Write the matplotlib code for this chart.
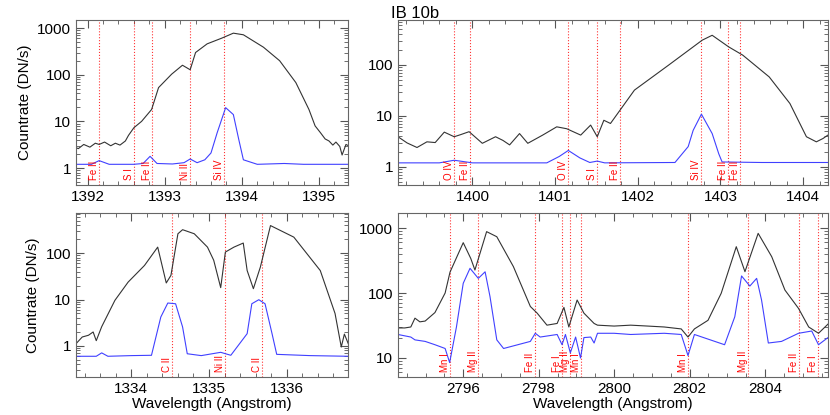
import matplotlib
matplotlib.use("Agg")
import matplotlib.pyplot as plt
from matplotlib.ticker import FixedLocator, LogLocator, FuncFormatter, MultipleLocator, NullFormatter

plt.rcParams["font.family"] = "Liberation Sans"

# ---- panel 1: Si IV 1393 ----
p1_black_x = [1391.81, 1391.88, 1391.95, 1392.03, 1392.10, 1392.15, 1392.22, 1392.30, 1392.36, 1392.42,
              1392.49, 1392.53, 1392.60, 1392.70, 1392.83, 1392.92, 1393.09, 1393.23, 1393.33, 1393.40,
              1393.55, 1393.74, 1393.89, 1394.02, 1394.28, 1394.49, 1394.70, 1394.87, 1394.95, 1395.02,
              1395.08, 1395.13, 1395.18, 1395.22, 1395.27, 1395.30, 1395.35, 1395.40]
p1_black_y = [2.9, 2.6, 3.2, 2.8, 3.4, 3.2, 3.6, 3.0, 3.4, 3.1,
              3.8, 5.0, 7.3, 10, 18, 53, 103, 160, 128, 300,
              460, 610, 780, 720, 390, 200, 68, 18, 8.0, 5.7,
              4.2, 3.8, 3.1, 3.6, 2.9, 1.9, 3.2, 2.9]
p1_blue_x = [1391.81, 1392.05, 1392.15, 1392.28, 1392.60, 1392.72, 1392.81, 1392.90, 1393.10, 1393.25,
             1393.33, 1393.42, 1393.52, 1393.60, 1393.68, 1393.79, 1393.89, 1393.96, 1394.02, 1394.20,
             1394.55, 1394.80, 1395.40]
p1_blue_y = [1.2, 1.2, 1.44, 1.2, 1.2, 1.25, 1.78, 1.25, 1.22, 1.3,
             1.56, 1.3, 1.5, 2.1, 5.7, 19.7, 14, 4.1, 1.5, 1.2,
             1.25, 1.2, 1.2]
p1_lines = [1392.15, 1392.60, 1392.83, 1393.33, 1393.77]
p1_labels = ["Fe II", "S I", "Fe II", "Ni II", "Si IV"]

# ---- panel 2: Si IV 1403 ----
p2_black_x = [1399.10, 1399.21, 1399.33, 1399.45, 1399.55, 1399.66, 1399.78, 1399.86, 1399.96, 1400.12,
              1400.28, 1400.37, 1400.45, 1400.57, 1400.67, 1400.85, 1401.02, 1401.14, 1401.31, 1401.43,
              1401.51, 1401.59, 1401.67, 1401.96, 1402.37, 1402.78, 1402.90, 1403.10, 1403.27, 1403.59,
              1403.84, 1404.04, 1404.16, 1404.24, 1404.30]
p2_black_y = [3.9, 2.95, 2.4, 3.1, 3.0, 4.8, 3.9, 4.3, 4.9, 2.9,
              3.9, 3.3, 2.7, 4.5, 2.9, 4.2, 6.1, 5.6, 4.2, 6.6,
              3.9, 8.2, 7.1, 32, 98, 305, 380, 225, 155, 58,
              17.5, 3.9, 3.1, 3.6, 4.2]
p2_blue_x = [1399.10, 1399.60, 1399.78, 1400.00, 1400.90, 1401.05, 1401.16, 1401.30, 1401.42, 1401.51,
             1401.60, 1402.45, 1402.61, 1402.67, 1402.77, 1402.90, 1402.98, 1403.02, 1403.50, 1404.30]
p2_blue_y = [1.2, 1.2, 1.35, 1.2, 1.2, 1.6, 2.1, 1.5, 1.22, 1.3,
             1.2, 1.22, 2.5, 5.2, 10.8, 4.5, 1.8, 1.25, 1.22, 1.22]
p2_lines = [1399.78, 1399.97, 1401.16, 1401.51, 1401.78, 1402.77, 1403.09, 1403.24]
p2_labels = ["O IV", "Fe II", "O IV", "S I", "Fe II", "Si IV", "Fe II", "Fe II"]

# ---- panel 3: C II ----
p3_black_x = [1333.29, 1333.37, 1333.45, 1333.51, 1333.55, 1333.62, 1333.79, 1333.96, 1334.17, 1334.34,
              1334.45, 1334.51, 1334.60, 1334.66, 1334.81, 1334.98, 1335.06, 1335.15, 1335.21, 1335.32,
              1335.44, 1335.49, 1335.57, 1335.66, 1335.79, 1336.09, 1336.43, 1336.62, 1336.70, 1336.74,
              1336.79]
p3_black_y = [1.12, 1.56, 1.7, 2.0, 1.3, 2.6, 9.6, 23.7, 54, 134,
              22.7, 33, 260, 318, 260, 134, 70, 18, 105, 134,
              164, 42, 17.1, 50, 390, 220, 42, 5.0, 0.95, 1.8,
              1.12]
p3_blue_x = [1333.29, 1333.55, 1333.62, 1333.70, 1334.00, 1334.26, 1334.38, 1334.47, 1334.57, 1334.66,
             1334.72, 1334.90, 1335.15, 1335.28, 1335.49, 1335.55, 1335.64, 1335.72, 1335.81, 1335.87,
             1336.30, 1336.79]
p3_blue_y = [0.6, 0.6, 0.71, 0.6, 0.62, 0.63, 4.2, 8.4, 8.1, 2.56,
             0.68, 0.62, 0.73, 0.63, 1.84, 8.1, 9.9, 8.1, 1.84, 0.66,
             0.62, 0.6]
p3_lines = [1334.53, 1335.20, 1335.68]
p3_labels = ["C II", "Ni II", "C II"]

# ---- panel 4: Mg II ----
p4_black_x = [2794.27, 2794.45, 2794.61, 2794.72, 2794.85, 2794.99, 2795.25, 2795.52, 2795.65, 2796.00,
              2796.20, 2796.31, 2796.62, 2796.89, 2797.33, 2797.78,
              2797.96, 2798.22, 2798.49, 2798.67, 2798.80, 2799.02, 2799.20, 2799.47, 2799.56, 2800.00,
              2800.44, 2800.89, 2801.33, 2801.78, 2801.96, 2802.13, 2802.49, 2802.84, 2803.24, 2803.47,
              2803.82, 2804.18, 2804.53, 2804.89, 2805.16, 2805.42, 2805.69]
p4_black_y = [29, 29, 30, 41, 36, 37, 50, 100, 210, 595,
              340, 226, 880, 735, 255, 62,
              49, 32, 34, 60, 30, 78, 49, 34, 32, 31,
              32, 31, 30, 28, 21, 28, 38, 99, 516, 213,
              828, 362, 111, 58, 30, 24, 34]
p4_blue_x = [2794.27, 2794.61, 2794.72, 2794.99, 2795.25, 2795.52, 2795.64, 2795.82, 2796.00, 2796.18,
             2796.40, 2796.58, 2796.71, 2796.89,
             2797.07, 2797.78, 2797.91, 2798.04, 2798.49, 2798.62, 2798.71, 2798.84, 2798.98, 2799.11,
             2799.20, 2799.38, 2799.47, 2799.56, 2800.00, 2800.44, 2801.33, 2801.78, 2801.96, 2802.13,
             2802.93, 2803.20, 2803.38, 2803.60, 2803.78, 2803.91, 2804.09, 2804.44, 2804.89, 2805.24,
             2805.42, 2805.69]
p4_blue_y = [23, 21, 19, 18, 16, 14, 8.5, 30, 141, 240,
             168, 212, 88, 19,
             14, 18, 24, 21, 23, 16, 23, 12, 21, 10,
             20.6, 21, 17, 24, 24, 23, 24, 23, 10.9, 23,
             16, 43, 183, 128, 168, 78, 17, 18, 24, 26,
             16, 21]
p4_lines = [2795.66, 2796.38, 2797.91, 2798.62, 2798.83, 2799.13, 2801.96, 2803.56, 2804.91, 2805.42]
p4_labels = ["Mn I", "Mg II", "Fe II", "Fe I", "Mg II", "Mn I", "Mn I", "Mg II", "Fe II", "Fe I"]

panels = [
    dict(pos=[0.0916, 0.554, 0.328, 0.398], bx=p1_black_x, by=p1_black_y, ux=p1_blue_x, uy=p1_blue_y,
         lines=p1_lines, labels=p1_labels, xlim=(1391.85, 1395.38), ylim=(0.43, 1500),
         ylabel=True, xlabel=False, xminor=0.2, yticks=[1, 10, 100, 1000]),
    dict(pos=[0.4795, 0.554, 0.518, 0.398], bx=p2_black_x, by=p2_black_y, ux=p2_blue_x, uy=p2_blue_y,
         lines=p2_lines, labels=p2_labels, xlim=(1399.1, 1404.3), ylim=(0.44, 760),
         ylabel=False, xlabel=False, xminor=0.2, yticks=[1, 10, 100]),
    dict(pos=[0.0916, 0.0916, 0.328, 0.395], bx=p3_black_x, by=p3_black_y, ux=p3_blue_x, uy=p3_blue_y,
         lines=p3_lines, labels=p3_labels, xlim=(1333.29, 1336.79), ylim=(0.215, 725),
         ylabel=True, xlabel=True, xminor=0.2, yticks=[1, 10, 100]),
    dict(pos=[0.4795, 0.0916, 0.518, 0.395], bx=p4_black_x, by=p4_black_y, ux=p4_blue_x, uy=p4_blue_y,
         lines=p4_lines, labels=p4_labels, xlim=(2794.27, 2805.67), ylim=(5.1, 1700),
         ylabel=False, xlabel=True, xminor=0.5, yticks=[10, 100, 1000]),
]

fig = plt.figure(figsize=(8.3, 4.15), dpi=100)
fig.text(0.5, 0.985, "IB 10b", ha="center", va="top", fontsize=12)

for p in panels:
    ax = fig.add_axes(p["pos"])
    ax.set_yscale("log")
    for lx, lab in zip(p["lines"], p["labels"]):
        ax.axvline(lx, color="red", linestyle=":", linewidth=0.8, alpha=0.8)
        ax.text(lx, 0.03, lab, transform=ax.get_xaxis_transform(), rotation=90,
                ha="right", va="bottom", color="red", fontsize=7)
    ax.plot(p["bx"], p["by"], color="#333333", linewidth=0.8)
    ax.plot(p["ux"], p["uy"], color="#4040ff", linewidth=0.8)
    ax.set_xlim(*p["xlim"])
    ax.set_ylim(*p["ylim"])
    ax.yaxis.set_major_locator(FixedLocator(p["yticks"]))
    ax.yaxis.set_minor_locator(LogLocator(base=10, subs=range(2, 10)))
    ax.yaxis.set_minor_formatter(NullFormatter())
    ax.yaxis.set_major_formatter(FuncFormatter(lambda v, _: f"{v:g}"))
    ax.xaxis.set_major_locator(MultipleLocator(1 if p["xminor"] < 0.5 else 2))
    ax.xaxis.set_minor_locator(MultipleLocator(p["xminor"]))
    ax.xaxis.set_major_formatter(FuncFormatter(lambda v, _: f"{v:.0f}"))
    ax.tick_params(which="both", direction="in", top=True, right=True, labelsize=11, color="#555555")
    ax.tick_params(which="major", length=6)
    ax.tick_params(which="minor", length=3)
    for s in ax.spines.values():
        s.set_color("#666666")
    if p["ylabel"]:
        ax.set_ylabel("Countrate (DN/s)", fontsize=11)
    if p["xlabel"]:
        ax.set_xlabel("Wavelength (Angstrom)", fontsize=11, labelpad=1)

fig.savefig("out.png", dpi=100)
